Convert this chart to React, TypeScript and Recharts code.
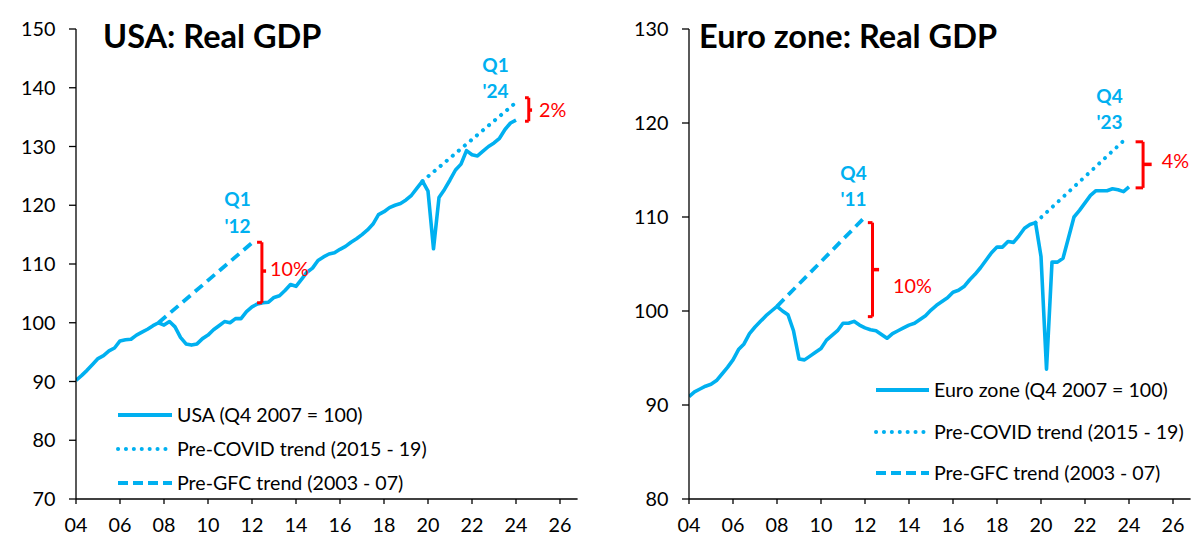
import { Line, LineChart, ReferenceDot, ReferenceLine, XAxis, YAxis } from "recharts";

const FONT = 'Lato, "Noto Sans", sans-serif';
const BLUE = "#00B0F0";
const RED = "#FF0000";

// quarterly index, Q4 2007 = 100, from Q1 2004 to Q1 2024
const firstQuarter = 2004;

const usGdp = [
  90.2, 91.0, 91.9, 92.9,
  93.9, 94.4, 95.2, 95.7,
  96.9, 97.1, 97.2, 97.9,
  98.4, 98.9, 99.5, 100.0,
  99.6, 100.2, 99.3, 97.5,
  96.4, 96.2, 96.4, 97.3,
  97.9, 98.8, 99.5, 100.2,
  100.0, 100.7, 100.7, 101.9,
  102.7, 103.2, 103.4, 103.5,
  104.3, 104.6, 105.5, 106.5,
  106.2, 107.4, 108.6, 109.3,
  110.6, 111.2, 111.7, 111.9,
  112.5, 113.0, 113.7, 114.3,
  115.0, 115.8, 116.8, 118.4,
  118.9, 119.6, 120.0, 120.3,
  120.9, 121.7, 122.9, 124.1,
  122.4, 112.6, 121.3, 122.7,
  124.3, 126.0, 127.0, 129.3,
  128.6, 128.4, 129.2, 130.0,
  130.6, 131.4, 132.9, 134.0,
  134.5,
];

const ezGdp = [
  90.9, 91.4, 91.7, 92.0,
  92.2, 92.6, 93.3, 94.0,
  94.8, 95.9, 96.5, 97.6,
  98.3, 98.9, 99.5, 100.0,
  100.5, 100.0, 99.6, 97.9,
  94.9, 94.8, 95.2, 95.6,
  96.0, 96.9, 97.4, 97.9,
  98.7, 98.7, 98.9, 98.5,
  98.2, 98.0, 97.9, 97.5,
  97.1, 97.6, 97.9, 98.2,
  98.5, 98.7, 99.1, 99.5,
  100.1, 100.6, 101.0, 101.4,
  102.0, 102.2, 102.6, 103.3,
  103.9, 104.6, 105.4, 106.2,
  106.8, 106.8, 107.4, 107.3,
  108.0, 108.8, 109.2, 109.4,
  105.8, 93.8, 105.2, 105.2,
  105.6, 107.8, 110.0, 110.7,
  111.5, 112.3, 112.8, 112.8,
  112.8, 113.0, 112.9, 112.7,
  113.2,
];

const usPreCovid = [
  { t: 2019.75, v: 124.1 },
  { t: 2024.0, v: 137.5 },
];
const usPreGfc = [
  { t: 2007.75, v: 100.0 },
  { t: 2012.0, v: 113.6 },
];
const ezPreCovid = [
  { t: 2019.75, v: 109.4 },
  { t: 2023.75, v: 118.1 },
];
const ezPreGfc = [
  { t: 2008.0, v: 100.5 },
  { t: 2012.0, v: 110.0 },
];

const xTicks = [2004, 2006, 2008, 2010, 2012, 2014, 2016, 2018, 2020, 2022, 2024, 2026];
const usTicks = [70, 80, 90, 100, 110, 120, 130, 140, 150];
const ezTicks = [80, 90, 100, 110, 120, 130];

const usLegend = ["USA (Q4 2007 = 100)", "Pre-COVID trend (2015 - 19)", "Pre-GFC trend (2003 - 07)"];
const ezLegend = ["Euro zone (Q4 2007 = 100)", "Pre-COVID trend (2015 - 19)", "Pre-GFC trend (2003 - 07)"];

// gap brackets: x of the bar, x of the hooks, x of the middle nub, top/bottom/mid values
const usBrackets = [
  { x: 2012.45, hook: 2012.23, nub: 2012.64, top: 113.7, bottom: 103.4, mid: 108.8, label: "10%", dx: 4, dy: 5 },
  { x: 2024.58, hook: 2024.41, nub: 2024.73, top: 138.3, bottom: 134.3, mid: 136.2, label: "2%", dx: 7, dy: 7 },
];
const ezBrackets = [
  { x: 2012.34, hook: 2012.13, nub: 2012.64, top: 109.4, bottom: 99.4, mid: 104.4, label: "10%", dx: 14, dy: 23 },
  { x: 2024.64, hook: 2024.3, nub: 2025.03, top: 118.0, bottom: 113.1, mid: 115.6, label: "4%", dx: 10, dy: 4 },
];

const usNotes = [
  { t: 2024.0, v: 137.5, lines: ["Q1", "'24"], dx: -20.5, dy: [-30.5, -4.5] },
  { t: 2012.0, v: 113.6, lines: ["Q1", "'12"], dx: -14.5, dy: [-37, -10] },
];
const ezNotes = [
  { t: 2023.75, v: 118.1, lines: ["Q4", "'23"], dx: -14, dy: [-38, -12] },
  { t: 2012.0, v: 110.0, lines: ["Q4", "'11"], dx: -11.5, dy: [-37, -11] },
];

const toSeries = (values) => values.map((v, i) => ({ t: firstQuarter + i / 4, v }));
const yearLabel = (v) => String(v % 100).padStart(2, "0");

const tickStyle = { fontSize: 19.8, fill: "#000", fontFamily: FONT };
const axisStroke = { stroke: "#000", strokeWidth: 1.3 };

function Panel({ gdp, preCovid, preGfc, domain, ticks, brackets, notes, yWidth, right }) {
  return (
    <LineChart width={600} height={536} margin={{ top: 29, right, bottom: 0, left: 0 }}>
      <XAxis
        type="number"
        dataKey="t"
        domain={[2004, 2026.8]}
        ticks={xTicks}
        interval={0}
        allowDataOverflow
        tickFormatter={yearLabel}
        tick={tickStyle}
        tickSize={5}
        tickMargin={13.5}
        height={37}
        axisLine={axisStroke}
        tickLine={axisStroke}
      />
      <YAxis
        type="number"
        domain={domain}
        ticks={ticks}
        interval={0}
        allowDataOverflow
        tick={tickStyle}
        tickSize={7}
        tickMargin={13.5}
        width={yWidth}
        axisLine={axisStroke}
        tickLine={axisStroke}
      />
      <Line data={preGfc} dataKey="v" stroke={BLUE} strokeWidth={3.8} strokeDasharray="10 6" dot={false} isAnimationActive={false} />
      <Line data={preCovid} dataKey="v" stroke={BLUE} strokeWidth={4} strokeDasharray="0.1 7.8" strokeLinecap="round" dot={false} isAnimationActive={false} />
      <Line data={toSeries(gdp)} dataKey="v" stroke={BLUE} strokeWidth={3.6} strokeLinejoin="round" dot={false} isAnimationActive={false} />
      {brackets.flatMap((b) => [
        <ReferenceLine key={b.label + "v"} segment={[{ x: b.x, y: b.top }, { x: b.x, y: b.bottom }]} stroke={RED} strokeWidth={3} />,
        <ReferenceLine key={b.label + "t"} segment={[{ x: b.hook, y: b.top }, { x: b.x, y: b.top }]} stroke={RED} strokeWidth={3} />,
        <ReferenceLine key={b.label + "b"} segment={[{ x: b.hook, y: b.bottom }, { x: b.x, y: b.bottom }]} stroke={RED} strokeWidth={3} />,
        <ReferenceLine key={b.label + "m"} segment={[{ x: b.x, y: b.mid }, { x: b.nub, y: b.mid }]} stroke={RED} strokeWidth={3.5} />,
        <ReferenceDot
          key={b.label + "l"}
          x={b.nub}
          y={b.mid}
          r={0}
          fill="none"
          stroke="none"
          label={(p) => (
            <text x={p.viewBox.x + b.dx} y={p.viewBox.y + b.dy} fill={RED} fontSize={19.8} fontFamily={FONT}>
              {b.label}
            </text>
          )}
        />,
      ])}
      {notes.map((n) => (
        <ReferenceDot
          key={n.lines.join("")}
          x={n.t}
          y={n.v}
          r={0}
          fill="none"
          stroke="none"
          label={(p) => (
            <g>
              {n.lines.map((line, i) => (
                <text
                  key={line}
                  x={p.viewBox.x + n.dx}
                  y={p.viewBox.y + n.dy[i]}
                  textAnchor="middle"
                  fill={BLUE}
                  fontSize={19}
                  fontWeight={700}
                  fontFamily={FONT}
                >
                  {line}
                </text>
              ))}
            </g>
          )}
        />
      ))}
    </LineChart>
  );
}

function LegendRows({ labels, lineX, textX, rows }) {
  const dashes = [undefined, "0.1 7.8", "10 5"];
  return (
    <g>
      {labels.map((label, i) => (
        <g key={label}>
          <line
            x1={lineX[0]}
            x2={lineX[1]}
            y1={rows[i]}
            y2={rows[i]}
            stroke={BLUE}
            strokeWidth={4}
            strokeDasharray={dashes[i]}
            strokeLinecap={i === 1 ? "round" : "butt"}
          />
          <text x={textX} y={rows[i] + 7} fontSize={19.6} fontFamily={FONT} fill="#000">
            {label}
          </text>
        </g>
      ))}
    </g>
  );
}

export default function App() {
  return (
    <div style={{ position: "absolute", left: 0, top: 0, width: 1200, height: 536, background: "#fff" }}>
      <div style={{ position: "absolute", left: 0, top: 0 }}>
        <Panel
          gdp={usGdp}
          preCovid={usPreCovid}
          preGfc={usPreGfc}
          domain={[70, 150]}
          ticks={usTicks}
          brackets={usBrackets}
          notes={usNotes}
          yWidth={76}
          right={22.4}
        />
      </div>
      <div style={{ position: "absolute", left: 600, top: 0 }}>
        <Panel
          gdp={ezGdp}
          preCovid={ezPreCovid}
          preGfc={ezPreGfc}
          domain={[80, 130]}
          ticks={ezTicks}
          brackets={ezBrackets}
          notes={ezNotes}
          yWidth={89}
          right={9.4}
        />
      </div>
      <svg width={1200} height={536} style={{ position: "absolute", left: 0, top: 0, pointerEvents: "none" }}>
        <text x={103} y={48} fontSize={32.5} fontWeight={700} fontFamily={FONT} fill="#000">
          USA: Real GDP
        </text>
        <text x={699} y={48} fontSize={32.5} fontWeight={700} fontFamily={FONT} fill="#000">
          Euro zone: Real GDP
        </text>
        <LegendRows labels={usLegend} lineX={[118, 172]} textX={177} rows={[415, 449, 483]} />
        <LegendRows labels={ezLegend} lineX={[876, 929]} textX={934} rows={[390, 432, 473]} />
      </svg>
    </div>
  );
}
